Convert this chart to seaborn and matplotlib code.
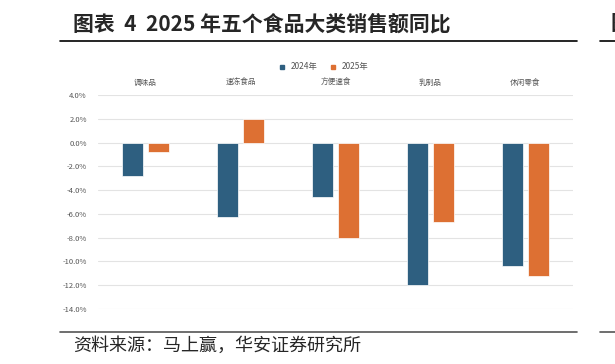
import pandas as pd
import seaborn as sns
from matplotlib import pyplot as plt
from matplotlib.lines import Line2D

categories = ["调味品", "速冻食品", "方便速食", "乳制品", "休闲零食"]
years = ["2024年", "2025年"]
yoy_2024 = [-2.8, -6.3, -4.6, -12.0, -10.4]
yoy_2025 = [-0.8, 2.0, -8.0, -6.7, -11.2]
yticks = [4, 2, 0, -2, -4, -6, -8, -10, -12, -14]

df = pd.DataFrame({
    "category": categories * 2,
    "year": [years[0]] * len(categories) + [years[1]] * len(categories),
    "value": yoy_2024 + yoy_2025,
})

sns.set_theme(style="white")
plt.rcParams["font.family"] = ["Noto Sans CJK SC", "DejaVu Sans"]

colors = {"2024年": "#2e5f80", "2025年": "#dd7033"}

fig = plt.figure(figsize=(6.15, 3.64), dpi=100)
ax = fig.add_axes([98 / 615, 1 - 309 / 364, 475 / 615, 214 / 364])

sns.barplot(data=df, x="category", y="value", hue="year", palette=colors, saturation=1,
            width=0.56, gap=0.2, ax=ax, legend=False, edgecolor="white", linewidth=0.5)

ax.set_ylim(-14, 4)
ax.set_yticks(yticks)
ax.set_yticklabels([f"{v:.1f}%" for v in yticks], fontsize=5.5, color="#555555")
ax.yaxis.grid(True, color="#e3e3e3", linewidth=0.8)
ax.set_axisbelow(True)
ax.tick_params(axis="y", length=0, pad=8)

ax.xaxis.tick_top()
ax.tick_params(axis="x", length=0, pad=6, labelsize=5.5, labelcolor="#555555")
ax.set_xlabel("")
ax.set_ylabel("")
for s in ax.spines.values():
    s.set_visible(False)

handles = [Line2D([0], [0], marker="s", linestyle="", markersize=3.5,
                  markerfacecolor=colors[y], markeredgecolor=colors[y]) for y in years]
fig.legend(handles, years, loc="center", bbox_to_anchor=(321 / 615, 1 - 67 / 364),
           ncol=2, frameon=False, fontsize=6, handletextpad=0.1, columnspacing=0.8,
           labelcolor="#555555")

# title, rules and source note
fig.text(73 / 615, 1 - 24 / 364, "图表  4  2025 年五个食品大类销售额同比",
         fontsize=15, fontweight="bold", va="center", ha="left")
fig.add_artist(Line2D([60 / 615, 577 / 615], [1 - 41 / 364] * 2, color="black", linewidth=1.2))
fig.add_artist(Line2D([600 / 615, 1], [1 - 41 / 364] * 2, color="black", linewidth=1.2))
fig.add_artist(Line2D([60 / 615, 577 / 615], [1 - 332 / 364] * 2, color="#555555", linewidth=1.2))
fig.add_artist(Line2D([600 / 615, 1], [1 - 332 / 364] * 2, color="#555555", linewidth=1.2))
fig.text(611 / 615, 1 - 24 / 364, "图", fontsize=15, fontweight="bold", va="center", ha="left")
fig.text(73 / 615, 1 - 346 / 364, "资料来源：马上赢，华安证券研究所",
         fontsize=13, va="center", ha="left")

fig.savefig("out.png", dpi=100)
